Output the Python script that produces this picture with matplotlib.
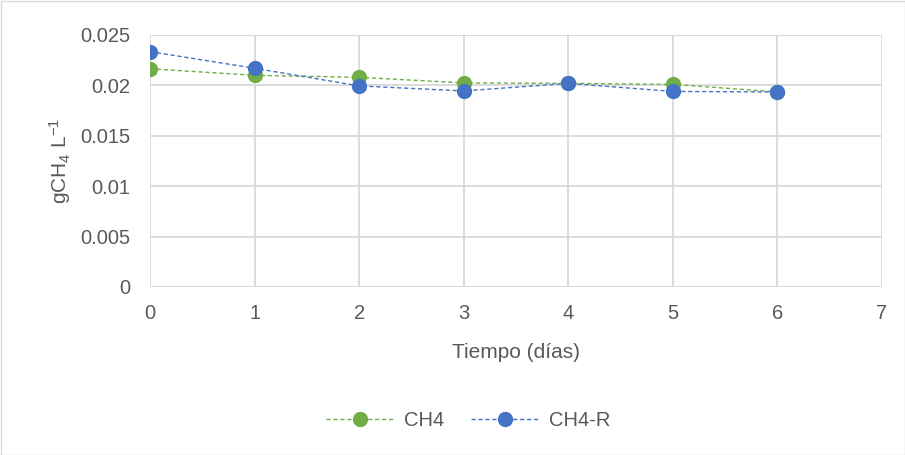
import matplotlib
matplotlib.use("Agg")
import matplotlib.pyplot as plt

dias = [0, 1, 2, 3, 4, 5, 6]
ch4 = [0.02165, 0.0210, 0.0208, 0.02025, 0.0202, 0.0201, 0.01935]
ch4_r = [0.02335, 0.0217, 0.01995, 0.01945, 0.0202, 0.0194, 0.01935]
x_ticks = [0, 1, 2, 3, 4, 5, 6, 7]
y_ticks = [0, 0.005, 0.01, 0.015, 0.02, 0.025]
y_labels = ["0", "0.005", "0.01", "0.015", "0.02", "0.025"]

plt.rcParams['font.family'] = ['Liberation Sans', 'DejaVu Sans']
plt.rcParams['mathtext.fontset'] = 'custom'
plt.rcParams['mathtext.rm'] = 'Liberation Sans'
plt.rcParams['mathtext.it'] = 'Liberation Sans'
plt.rcParams['mathtext.default'] = 'rm'
txt = '#595959'
grid = '#D9D9D9'

fig = plt.figure(figsize=(9.05, 4.55), dpi=100)
ax = fig.add_axes([150/905, 1-287/455, (882-150)/905, (287-35)/455])

ax.plot(dias, ch4, color='#70AD47', lw=1.0, ls=(0, (3, 2)), marker='o',
        markersize=11, markeredgewidth=0, label='CH4', zorder=3)
ax.plot(dias, ch4_r, color='#4472C4', lw=1.0, ls=(0, (3, 2)), marker='o',
        markersize=11, markeredgewidth=0, label='CH4-R', zorder=4)

ax.set_xlim(0, 7)
ax.set_ylim(0, 0.025)
ax.set_xticks(x_ticks)
ax.set_yticks(y_ticks)
ax.set_yticklabels(y_labels)
ax.grid(True, color=grid, lw=1.3)
ax.set_axisbelow(True)
for s in ax.spines.values():
    s.set_visible(False)
ax.tick_params(axis='y', length=0, labelsize=14.5, colors=txt, pad=14)
ax.tick_params(axis='x', length=0, labelsize=14.5, colors=txt, pad=12)
ax.set_xlabel('Tiempo (días)', fontsize=15, color=txt, labelpad=15)
ax.set_ylabel('gCH$_4$ L$^{-1}$', fontsize=15, color=txt, labelpad=5)

leg = fig.legend(loc='center', bbox_to_anchor=(468/905, 1-421/455), ncol=2,
                 frameon=False, fontsize=14.5, handlelength=3.4, columnspacing=1.3,
                 handletextpad=0.5)
for t in leg.get_texts():
    t.set_color(txt)

fig.patches.append(plt.Rectangle((0.5/905, 0.5/455), 1-1/905, 1-1/455,
                                 transform=fig.transFigure, fill=False,
                                 edgecolor='#D9D9D9', lw=1))
fig.savefig('out.png', dpi=100)
